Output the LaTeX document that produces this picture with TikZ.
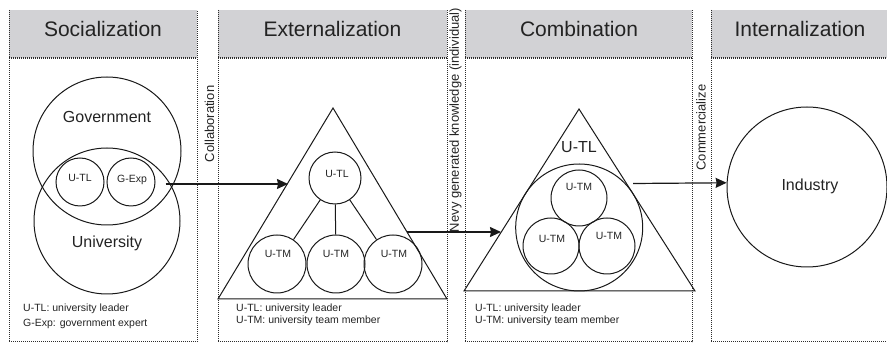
\documentclass[tikz,border=0pt]{standalone}
\usepackage{fontspec}
\setmainfont{Liberation Sans}
\usetikzlibrary{arrows.meta}
\begin{document}
\begin{tikzpicture}[x=1pt,y=-1pt]
	\definecolor{entete}{RGB}{210,210,213}
	\definecolor{bord}{RGB}{45,45,45}
	\definecolor{trait}{RGB}{25,25,25}
	\definecolor{texte}{RGB}{35,35,35}
	\tikzset{
		cadre/.style={bord, line width=1pt, densely dotted},
		rond/.style={draw=trait, line width=1pt, circle, inner sep=0pt, minimum size=#1},
		fleche/.style={trait, line width=1.2pt, ->, >={Stealth[length=11pt,width=10pt,inset=1pt]}},
		titre/.style={text=texte, font=\fontsize{21}{25}\selectfont, anchor=base, inner sep=0pt},
		petit/.style={text=texte, font=\fontsize{10.5}{12}\selectfont, inner sep=0pt},
		moyen/.style={text=texte, font=\fontsize{16}{19}\selectfont, inner sep=0pt},
		vertical/.style={text=texte, font=\fontsize{13}{15}\selectfont, rotate=90, inner sep=0pt},
		legende/.style={text=texte, font=\fontsize{10.5}{#1}\selectfont, anchor=west, align=left, inner sep=0pt}
	}
	\useasboundingbox (0,0) rectangle (887,344);
	\fill[entete] (9,10) rectangle (197,58);
	\draw[cadre] (9,10) -- (9,342) -- (197,342) -- (197,10);
	\draw[cadre, line width=1.5pt] (9,58) -- (197,58);
	\fill[entete] (218,10) rectangle (447,58);
	\draw[cadre] (218,10) -- (218,342) -- (447,342) -- (447,10);
	\draw[cadre, line width=1.5pt] (218,58) -- (447,58);
	\fill[entete] (465,10) rectangle (692,58);
	\draw[cadre] (465,10) -- (465,342) -- (692,342) -- (692,10);
	\draw[cadre, line width=1.5pt] (465,58) -- (692,58);
	\fill[entete] (711,10) rectangle (889,58);
	\draw[cadre] (711,10) -- (711,342) -- (889,342) -- (889,10);
	\draw[cadre, line width=1.5pt] (711,58) -- (889,58);
	\node[titre] (socialisation) at (103,37) {Socialization};
	\node[titre] (externalisation) at (332.5,37) {Externalization};
	\node[titre] (combinaison) at (579,37) {Combination};
	\node[titre] (internalisation) at (800,37) {Internalization};
	\node[vertical] (collaboration) at (209.5,124) {Collaboration};
	\node[vertical] (nouveau) at (455.5,120) {Nevy generated knowledge (individual)};
	\node[vertical] (commerce) at (701,127.5) {Commercialize};
	% socialization
	\node[rond=148pt] (gouvernement) at (107,151) {};
	\node[rond=146pt] (universite) at (107,221) {};
	\node[rond=48pt] (chef1) at (80,182) {};
	\node[rond=48pt] (expert) at (131,182) {};
	\node[moyen] (gouvT) at (107,117) {Government};
	\node[moyen] (univT) at (107,243) {University};
	\node[petit] (chef1T) at (80,178) {U-TL};
	\node[petit] (expertT) at (132,180) {G-Exp};
	\node[legende=15pt] (leg1) at (23,316) {U-TL: university leader\\G-Exp: government expert};
	% externalization
	\draw[trait, line width=1pt] (333,108) -- (447,299) -- (218,299) -- cycle;
	\node[rond=52pt] (chef2) at (335,178) {};
	\node[rond=58pt] (membreA) at (277,264) {};
	\node[rond=58pt] (membreB) at (336,264) {};
	\node[rond=58pt] (membreC) at (393,264) {};
	\draw[trait, line width=1pt] (chef2) -- (membreA);
	\draw[trait, line width=1pt] (chef2) -- (membreB);
	\draw[trait, line width=1pt] (chef2) -- (membreC);
	\node[petit] (chef2T) at (337,174) {U-TL};
	\node[petit] (membreAT) at (278,254) {U-TM};
	\node[petit] (membreBT) at (336,254) {U-TM};
	\node[petit] (membreCT) at (394,254) {U-TM};
	\node[legende=12pt] (leg2) at (236,315) {U-TL: university leader\\U-TM: university team member};
	% combination
	\draw[trait, line width=1pt] (579,109) -- (695,291) -- (464,291) -- cycle;
	\node[rond=127pt] (equipe) at (579.2,227.5) {};
	\node[rond=56pt] (membreD) at (579,198) {};
	\node[rond=56pt] (membreE) at (551,246) {};
	\node[rond=56pt] (membreF) at (607,246) {};
	\node[moyen] (chef3T) at (579,147.5) {U-TL};
	\node[petit] (membreDT) at (579,187) {U-TM};
	\node[petit] (membreET) at (552,238.5) {U-TM};
	\node[petit] (membreFT) at (609,236) {U-TM};
	\node[legende=12pt] (leg3) at (475,315) {U-TL: university leader\\U-TM: university team member};
	% internalization
	\node[rond=160pt] (industrie) at (807,187) {};
	\node[moyen] (industrieT) at (810,186) {Industry};
	% fleches
	\coordinate (entree2) at (288,184);
	\coordinate (sortie2) at (407,232);
	\coordinate (entree3) at (501,232);
	\coordinate (sortie3) at (633,183.5);
	\draw[fleche] ([shift={(10,2)}]expert.east) -- (entree2);
	\draw[fleche] (sortie2) -- (entree3);
	\draw[fleche] (sortie3) -- (industrie.177);
\end{tikzpicture}
\end{document}
